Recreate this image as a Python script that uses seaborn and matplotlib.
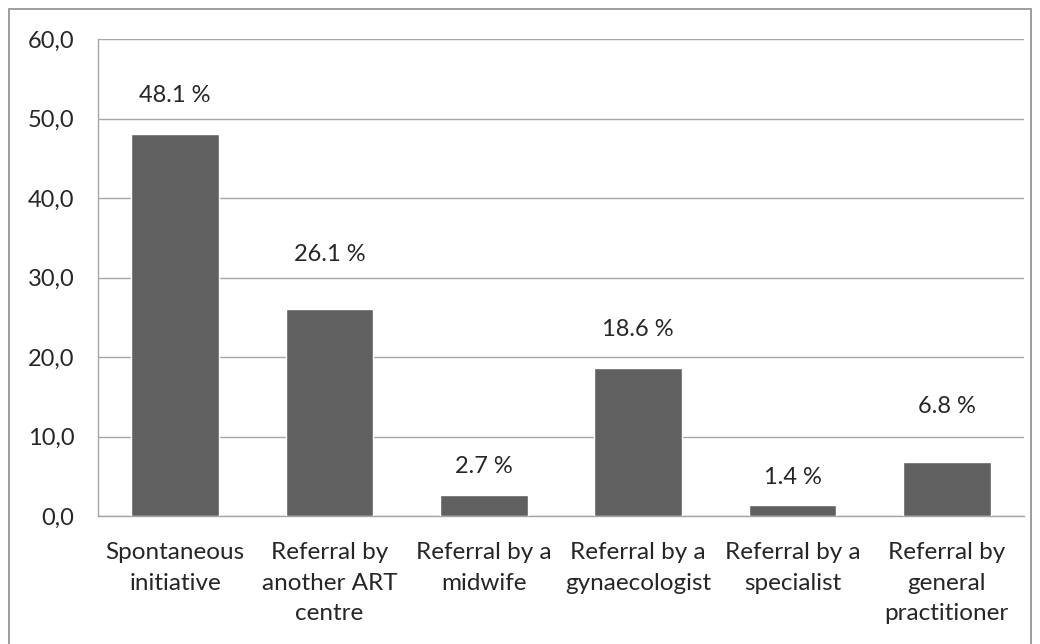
import matplotlib
matplotlib.use('Agg')
import matplotlib.pyplot as plt
import seaborn as sns
import pandas as pd
from matplotlib.patches import Rectangle

# Datos
categorias = ['Spontaneous\ninitiative', 'Referral by\nanother ART\ncentre',
              'Referral by a\nmidwife', 'Referral by a\ngynaecologist',
              'Referral by a\nspecialist', 'Referral by\ngeneral\npractitioner']
porcentajes = [48.1, 26.1, 2.7, 18.6, 1.4, 6.8]
etiquetas = ['48.1 %', '26.1 %', '2.7 %', '18.6 %', '1.4 %', '6.8 %']
ticks_y = [0, 10, 20, 30, 40, 50, 60]

# separacion (px) de cada etiqueta sobre su barra, como en el original
desplaz = [38, 54, 28, 39, 27, 55]

df = pd.DataFrame({'categoria': categorias, 'valor': porcentajes})

sns.set_style('white')
plt.rcParams['font.family'] = ['Lato', 'DejaVu Sans']

fig = plt.figure(figsize=(10.4, 6.44), dpi=100)
ax = fig.add_axes([98 / 1040, 1 - 516 / 644, (1024 - 98) / 1040, (516 - 39) / 644])

sns.barplot(data=df, x='categoria', y='valor', color='#606060', width=0.57,
            saturation=1, ax=ax, zorder=3)

ax.set_ylim(0, 60)
ax.set_xlim(-0.5, 5.5)
ax.set_yticks(ticks_y)
ax.set_yticklabels([f'{t:.1f}'.replace('.', ',') for t in ticks_y], fontsize=17)
for lbl in ax.get_xticklabels():
    lbl.set_linespacing(1.55)
ax.tick_params(axis='x', labelsize=17.5, length=0, pad=19)
ax.tick_params(axis='y', length=0, pad=17)
ax.set_xlabel('')
ax.set_ylabel('')
ax.yaxis.grid(True, color='#a6a6a6', linewidth=1)
ax.set_axisbelow(True)

for s in ['top', 'right']:
    ax.spines[s].set_visible(False)
for s in ['left', 'bottom']:
    ax.spines[s].set_color('#a6a6a6')
    ax.spines[s].set_linewidth(1)

for i, (v, txt) in enumerate(zip(porcentajes, etiquetas)):
    ax.annotate(txt, (i, v), xytext=(0, desplaz[i]), textcoords='offset pixels',
                ha='center', va='center', fontsize=17)

# Borde exterior del grafico
fig.patches.append(Rectangle((9 / 1040, -0.01), (1031 - 9) / 1040, 1 - 9 / 644 + 0.01,
                             transform=fig.transFigure, fill=False,
                             edgecolor='#8c8c8c', linewidth=1.2))

fig.savefig('out.png', dpi=100)
